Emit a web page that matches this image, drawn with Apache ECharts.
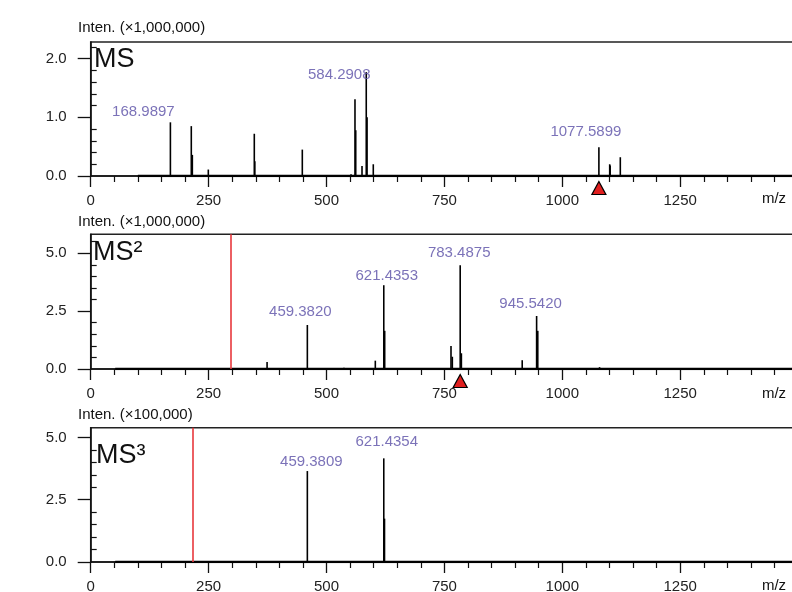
<!DOCTYPE html>
<html>
<head>
<meta charset="utf-8">
<script src="https://cdn.jsdelivr.net/npm/echarts@6/dist/echarts.min.js"></script>
<style>
html, body { margin: 0; padding: 0; background: #fff; }
#chart { width: 792px; height: 592px; }
</style>
</head>
<body>
<div id="chart"></div>
<script>
// m/z axis
const mzMin = 0;
const mzMax = 1500;
const mzStep = 250;

// MS (x1,000,000)
const ms1Peaks = [
  [168.99, 0.915], [213.3, 0.85], [215.5, 0.36], [249.4, 0.11],
  [346.9, 0.72], [348.0, 0.25], [448.7, 0.45], [552.0, 0.03],
  [560.4, 1.31], [562.0, 0.78], [575.3, 0.17], [584.29, 1.77],
  [586.0, 1.0], [599.2, 0.2], [1077.59, 0.49], [1100.5, 0.2],
  [1101.5, 0.18], [1123.0, 0.32]
];
const ms1Labels = [[168.99, 0.915, '168.9897'], [584.29, 1.77, '584.2908'], [1077.59, 0.49, '1077.5899']];
const ms1Precursor = [1077.5899];
const ms1Baseline = [100, 1500];
const ms1Max = 2.284;
const ms1MajorTicks = [0, 1, 2];
const ms1MinorTicks = [0.2, 0.4, 0.6, 0.8, 1.2, 1.4, 1.6, 1.8, 2.2];

// MS2 (x1,000,000)
const ms2Peaks = [
  [374.0, 0.30], [459.38, 1.90], [537.0, 0.05], [603.5, 0.36],
  [621.44, 3.62], [623.4, 1.65], [764.0, 0.99], [766.8, 0.53],
  [783.49, 4.48], [786.0, 0.68], [915.0, 0.38], [945.54, 2.29],
  [948.0, 1.65], [1079.0, 0.08]
];
const ms2Labels = [[459.38, 1.90, '459.3820'], [621.44, 3.62, '621.4353'], [783.49, 4.48, '783.4875'], [945.54, 2.29, '945.5420']];
const ms2Precursor = [783.4875];
const ms2Cutoff = 297.5;
const ms2Baseline = [52, 1500];
const ms2Max = 5.82;
const ms2MajorTicks = [0, 2.5, 5];
const ms2MinorTicks = [0.5, 1, 1.5, 2, 3, 3.5, 4, 4.5, 5.5];

// MS3 (x100,000)
const ms3Peaks = [[459.38, 3.65], [621.44, 4.16], [623.0, 1.74]];
const ms3Labels = [[459.38, 3.65, '459.3809'], [621.44, 4.16, '621.4354']];
const ms3Cutoff = 215.5;
const ms3Baseline = [52, 1500];
const ms3Max = 5.39;
const ms3MajorTicks = [0, 2.5, 5];
const ms3MinorTicks = [0.5, 1, 1.5, 2, 3, 3.5, 4, 4.5];

// label offsets (px) relative to the peak top
const ms1LabelOffsets = [[-27, -10], [-27, 3], [-13, -15]];
const ms2LabelOffsets = [[-7, -13], [3, -9], [-1, -12], [-6, -12]];
const ms3LabelOffsets = [[4, -9], [3, -16]];

const FONT = 'Liberation Sans, Arial, sans-serif';
const LABEL_COLOR = '#5a4fa6';
const AXIS_COLOR = '#111';

const panels = [
  { top: 42, height: 134, peaks: ms1Peaks, labels: ms1Labels, offsets: ms1LabelOffsets, precursor: ms1Precursor, cutoff: null, baseline: ms1Baseline, max: ms1Max, major: ms1MajorTicks, minor: ms1MinorTicks },
  { top: 234.3, height: 134.7, peaks: ms2Peaks, labels: ms2Labels, offsets: ms2LabelOffsets, precursor: ms2Precursor, cutoff: ms2Cutoff, baseline: ms2Baseline, max: ms2Max, major: ms2MajorTicks, minor: ms2MinorTicks },
  { top: 427.7, height: 134.3, peaks: ms3Peaks, labels: ms3Labels, offsets: ms3LabelOffsets, precursor: [], cutoff: ms3Cutoff, baseline: ms3Baseline, max: ms3Max, major: ms3MajorTicks, minor: ms3MinorTicks }
];

function stickItem(params, api) {
  const top = api.coord([api.value(0), api.value(1)]);
  const base = api.coord([api.value(0), 0]);
  return {
    type: 'line',
    shape: { x1: top[0], y1: top[1], x2: base[0], y2: base[1] },
    style: { stroke: '#000', lineWidth: 1.6 }
  };
}

const grid = [], xAxis = [], yAxis = [], series = [];

panels.forEach((p, i) => {
  grid.push({
    left: 90.7, width: 707.4, top: p.top, height: p.height,
    outerBoundsMode: 'none', containLabel: false,
    show: true, borderColor: '#222', borderWidth: 1.5, backgroundColor: 'transparent'
  });
  xAxis.push({
    type: 'value', gridIndex: i, min: mzMin, max: mzMax, interval: mzStep,
    axisLine: { show: true, onZero: false, lineStyle: { color: AXIS_COLOR, width: 1.5 } },
    axisTick: { show: true, length: 11, lineStyle: { color: AXIS_COLOR, width: 1.3 } },
    minorTick: { show: true, splitNumber: 5, length: 6, lineStyle: { color: AXIS_COLOR, width: 1.2 } },
    axisLabel: { showMaxLabel: false, margin: 17, fontSize: 15, color: '#222', fontFamily: FONT,
      formatter: v => String(v) },
    splitLine: { show: false }
  });
  yAxis.push({
    type: 'value', gridIndex: i, min: 0, max: p.max,
    axisLine: { show: true, onZero: false, lineStyle: { color: AXIS_COLOR, width: 1.5 } },
    axisTick: { show: true, length: 13, customValues: p.major, lineStyle: { color: AXIS_COLOR, width: 1.3 } },
    axisLabel: { customValues: p.major, margin: 24, fontSize: 15, color: '#222', fontFamily: FONT,
      formatter: v => v.toFixed(1) },
    splitLine: { show: false }
  });
  yAxis.push({
    type: 'value', gridIndex: i, min: 0, max: p.max,
    axisLine: { show: false },
    axisTick: { show: true, length: 6, customValues: p.minor, lineStyle: { color: AXIS_COLOR, width: 1.2 } },
    axisLabel: { show: false },
    splitLine: { show: false }
  });
  const yIdx = i * 2;

  const baseSeries = {
    type: 'line', xAxisIndex: i, yAxisIndex: yIdx, silent: true,
    data: [[p.baseline[0], 0], [p.baseline[1], 0]],
    symbol: 'none', lineStyle: { color: '#000', width: 2.4 }, z: 3
  };
  if (p.cutoff !== null) {
    baseSeries.markLine = {
      silent: true, symbol: ['none', 'none'], label: { show: false },
      lineStyle: { color: '#e8383d', width: 1.6, type: 'solid' },
      data: [{ xAxis: p.cutoff }]
    };
  }
  series.push(baseSeries);

  series.push({
    type: 'custom', xAxisIndex: i, yAxisIndex: yIdx, silent: true,
    renderItem: stickItem, encode: { x: 0, y: 1 },
    data: p.peaks, z: 4
  });

  series.push({
    type: 'scatter', xAxisIndex: i, yAxisIndex: yIdx, silent: true,
    symbolSize: 0,
    data: p.labels.map((l, k) => ({
      name: l[2], value: [l[0], l[1]],
      label: { offset: p.offsets[k] }
    })),
    label: { show: true, position: 'inside', formatter: '{b}', color: LABEL_COLOR, fontSize: 15, fontFamily: FONT },
    z: 6
  });

  if (p.precursor.length) {
    series.push({
      type: 'scatter', xAxisIndex: i, yAxisIndex: yIdx, silent: true, clip: false,
      symbol: 'triangle', symbolSize: [14, 13], symbolOffset: [0, 12],
      data: p.precursor.map(m => [m, 0]),
      itemStyle: { color: '#e01f1f', opacity: 1, borderColor: '#000', borderWidth: 1.2 },
      z: 7
    });
  }
});

function txt(x, y, text, size, align) {
  return {
    type: 'text', z: 100,
    style: { x: x, y: y, text: text, fill: '#111', font: size + 'px ' + FONT, align: align || 'left', verticalAlign: 'middle' }
  };
}

const graphic = [
  txt(78, 28, 'Inten. (×1,000,000)', 15),
  txt(78, 221.7, 'Inten. (×1,000,000)', 15),
  txt(78, 415, 'Inten. (×100,000)', 15),
  txt(94, 60, 'MS', 27),
  txt(93, 253, 'MS²', 27),
  txt(96, 456, 'MS³', 27),
  txt(774, 199, 'm/z', 15, 'center'),
  txt(774, 393.5, 'm/z', 15, 'center'),
  txt(774, 586, 'm/z', 15, 'center')
];

const chart = echarts.init(document.getElementById('chart'));
chart.setOption({
  animation: false,
  backgroundColor: '#fff',
  textStyle: { fontFamily: FONT },
  grid: grid,
  xAxis: xAxis,
  yAxis: yAxis,
  series: series,
  graphic: graphic
});
</script>
</body>
</html>
